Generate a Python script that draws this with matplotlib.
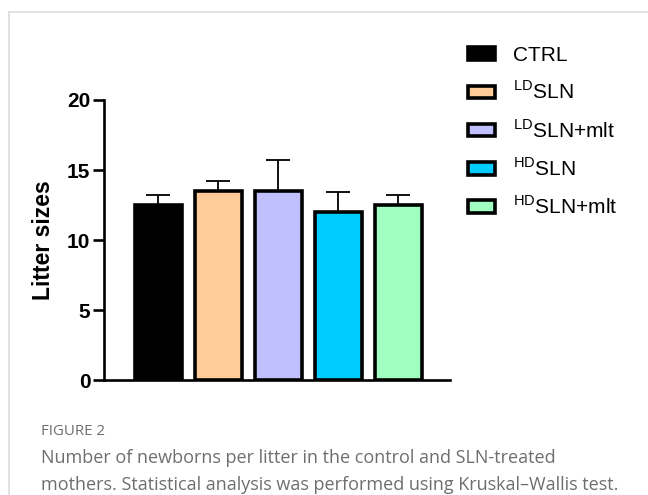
import matplotlib.pyplot as plt
import matplotlib.patches as mpatches
from matplotlib.lines import Line2D
import numpy as np

plt.rcParams['font.family'] = ['Liberation Sans', 'DejaVu Sans']
plt.rcParams['mathtext.fontset'] = 'custom'
plt.rcParams['mathtext.rm'] = 'Liberation Sans'

# data
groups = ['CTRL', r'$^{\mathrm{LD}}$SLN', r'$^{\mathrm{LD}}$SLN+mlt',
          r'$^{\mathrm{HD}}$SLN', r'$^{\mathrm{HD}}$SLN+mlt']
means = [12.5, 13.5, 13.5, 12.0, 12.5]
errors = [0.7, 0.7, 2.2, 1.4, 0.7]
colors = ['#000000', '#FFCC99', '#C0C0FF', '#00CCFF', '#A0FFC0']

fig = plt.figure(figsize=(6.48, 4.95), dpi=100)
ax = fig.add_axes([0.161, 0.232, 0.533, 0.566])

x = np.arange(len(groups))
# only the upper half of the SD is shown
ax.errorbar(x, means, yerr=[np.zeros(len(means)), errors], fmt='none',
            ecolor='black', elinewidth=1.3, capsize=8.5, capthick=1.3, zorder=1)
ax.bar(x, means, width=0.78, color=colors, edgecolor='black', linewidth=2.6, zorder=2)

ax.set_xlim(-0.9, 4.86)
ax.set_ylim(0, 20)
ax.set_yticks([0, 5, 10, 15, 20])
ax.set_xticks([])
for s in ['top', 'right']:
    ax.spines[s].set_visible(False)
for s in ['left', 'bottom']:
    ax.spines[s].set_linewidth(1.9)
ax.tick_params(axis='y', direction='out', length=8, width=1.9, pad=2,
               labelsize=15)
for lab in ax.get_yticklabels():
    lab.set_fontweight('bold')
ax.set_ylabel('Litter sizes', fontsize=16.5, fontweight='bold', labelpad=9)

handles = [mpatches.Patch(facecolor=c, edgecolor='black', linewidth=2.6) for c in colors]
fig.legend(handles, groups, loc='upper left', bbox_to_anchor=(0.693, 0.945),
           frameon=False, fontsize=15, handlelength=1.3, handleheight=0.55,
           handletextpad=0.85, labelspacing=0.75)

# card border
fig.add_artist(Line2D([0.014, 1.0], [0.976, 0.976], color='#dcdcdc', lw=1.2))
fig.add_artist(Line2D([0.014, 0.014], [0.0, 0.976], color='#dcdcdc', lw=1.2))

# caption
cap_font = ['Open Sans', 'DejaVu Sans']
fig.text(0.063, 0.128, 'FIGURE 2', fontsize=10.8, color='#6e6e6e',
         family=cap_font, va='center')
fig.text(0.063, 0.075, 'Number of newborns per litter in the control and SLN-treated',
         fontsize=13, color='#6e6e6e', family=cap_font, va='center')
fig.text(0.063, 0.021, 'mothers. Statistical analysis was performed using Kruskal\u2013Wallis test.',
         fontsize=13, color='#6e6e6e', family=cap_font, va='center')

fig.savefig('out.png', dpi=100)
